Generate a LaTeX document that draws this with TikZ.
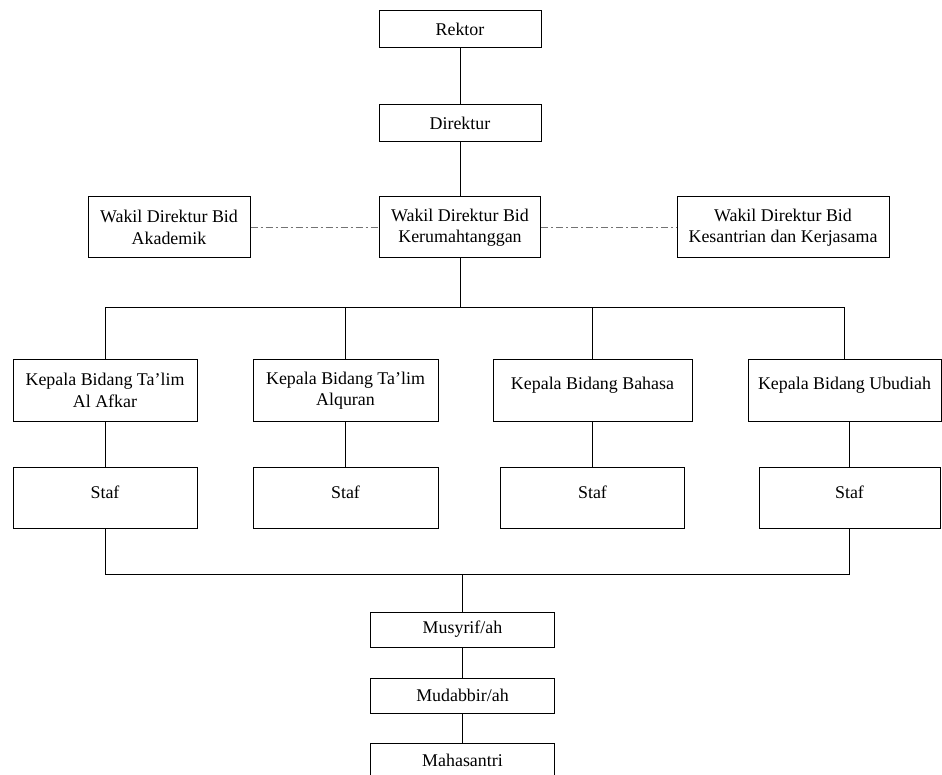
\documentclass[tikz,border=0pt]{standalone}
\usepackage{fontspec}
\setmainfont{Liberation Serif}
\usetikzlibrary{positioning}

\begin{document}
\begin{tikzpicture}[x=1pt, y=-1pt, on grid,
    kotak/.style={draw, line width=1pt, align=center, inner sep=3pt,
        minimum width=184pt, minimum height=61pt,
        font=\fontsize{17.9}{21.5}\selectfont},
    pendek/.style={kotak, minimum width=162pt, minimum height=37pt},
    atas/.style={text depth=#1},
    garis/.style={line width=1pt},
    putus/.style={draw=black!55, line width=1.2pt, dash pattern=on 7pt off 3pt on 2pt off 3pt}]
    \clip (0,0) rectangle (942,775);

    \node[pendek] (rektor) at (460,29) {Rektor};
    \node[pendek] (direktur) [below=94.5pt of rektor] {Direktur};
    \node[kotak, minimum width=161pt] (wakilk) [below=104pt of direktur] {Wakil Direktur Bid\\Kerumahtanggan};
    \node[kotak, minimum width=162pt] (wakila) [left=291pt of wakilk] {Wakil Direktur Bid\\Akademik};
    \node[kotak, minimum width=212pt] (wakilr) [right=323pt of wakilk] {Wakil Direktur Bid\\Kesantrian dan Kerjasama};

    % kepala bidang
    \node[kotak] (k1) [below left=163pt and 355pt of wakilk] {Kepala Bidang Ta’lim\\Al Afkar};
    \node[kotak, minimum width=185pt] (k2) [right=240.5pt of k1] {Kepala Bidang Ta’lim\\Alquran};
    \node[kotak, minimum width=199pt, atas=14pt] (k3) [right=247pt of k2] {Kepala Bidang Bahasa};
    \node[kotak, minimum width=193pt, atas=14pt] (k4) [right=252pt of k3] {Kepala Bidang Ubudiah};

    % staf
    \node[kotak, atas=10pt] (s1) [below=107pt of k1] {Staf};
    \node[kotak, minimum width=185pt, atas=10pt] (s2) [below=107pt of k2] {Staf};
    \node[kotak, atas=10pt] (s3) [below=107pt of k3] {Staf};
    \node[kotak, minimum width=181pt, atas=10pt] (s4) [below=107pt of k4, xshift=5pt] {Staf};

    \node[pendek, minimum width=184pt, minimum height=35pt] (musyrif) [below=402pt of wakilk, xshift=2.5pt] {Musyrif/ah};
    \node[pendek, minimum width=184pt, minimum height=35pt] (mudabbir) [below=66pt of musyrif] {Mudabbir/ah};
    \node[pendek, minimum width=184pt, minimum height=35pt] (mahasantri) [below=65pt of mudabbir] {Mahasantri};

    \draw[garis] (rektor) -- (direktur) -- (wakilk);
    \draw[putus] (wakila) -- (wakilk) -- (wakilr);
    \draw[garis] (wakilk.south) -- ++(0,49) coordinate (cabang);
    \draw[garis] (k1.north) |- (cabang) -| (k4.north);
    \draw[garis] (k2.north) -- (k2.north |- cabang);
    \draw[garis] (k3.north) -- (k3.north |- cabang);
    \foreach \i in {1,...,4}
        \draw[garis] (s\i.north) -- (s\i.north |- k\i.south);
    \draw[garis] (s1.south) -- ++(0,46) coordinate (gabung) -| (s4.south);
    \draw[garis] (musyrif.north) -- (musyrif.north |- gabung);
    \draw[garis] (musyrif) -- (mudabbir) -- (mahasantri);
\end{tikzpicture}
\end{document}
